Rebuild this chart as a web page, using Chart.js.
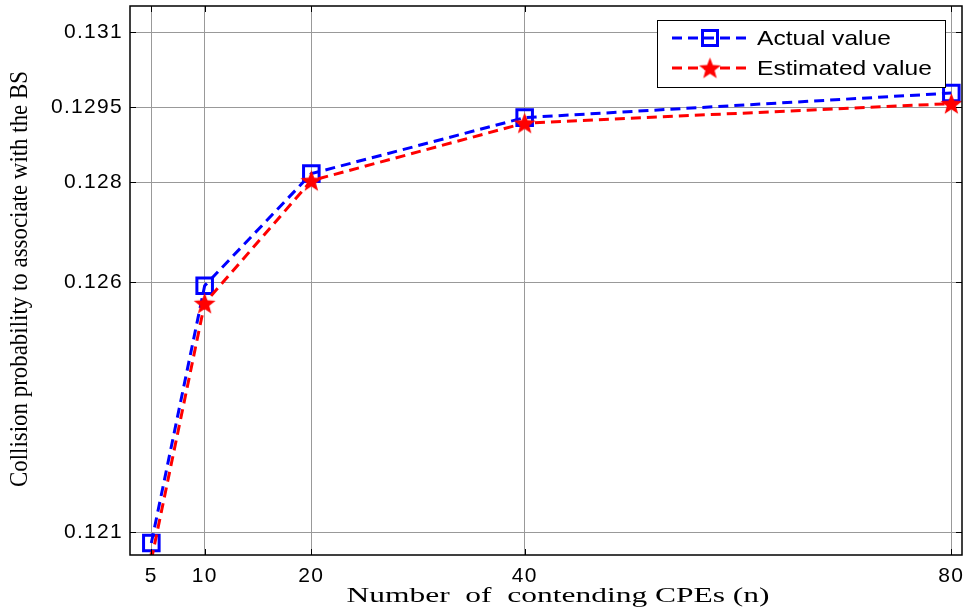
<!DOCTYPE html>
<html>
<head>
<meta charset="utf-8">
<script src="https://cdn.jsdelivr.net/npm/chart.js@4.4.1/dist/chart.umd.min.js"></script>
<style>
  html, body { margin: 0; padding: 0; background: #fff; }
  #wrap { width: 964px; height: 616px; }
</style>
</head>
<body>
<div id="wrap"><canvas id="chart" width="964" height="616"></canvas></div>
<script>
// Collision probability vs number of contending CPEs
const nValues = [5, 10, 20, 40, 80];
const actualValues = [0.12079, 0.12593, 0.12817, 0.12929, 0.12978];
const estimatedValues = [0.12045, 0.12558, 0.12803, 0.12918, 0.12957];
const xTickValues = [5, 10, 20, 40, 80];
const yTickValues = [0.121, 0.126, 0.128, 0.1295, 0.131];
const seriesLabels = ['Actual value', 'Estimated value'];
const xTitle = 'Number  of  contending CPEs (n)';
const yTitle = 'Collision probability to associate with the BS';

const BLUE = '#0000ff';
const RED = '#ff0000';
const DASH = [10, 6];
const SANS = 'Liberation Sans, Arial, sans-serif';
const SERIF = 'Liberation Serif, Times New Roman, serif';
const TICK_FONT = { family: SANS, size: 21 };

// Estrella rellena de 5 puntas como imagen de marcador
function makeStar(r, color) {
  const size = Math.ceil(r * 2) + 2;
  const c = document.createElement('canvas');
  c.width = size;
  c.height = size;
  const g = c.getContext('2d');
  g.fillStyle = color;
  g.beginPath();
  for (let i = 0; i < 10; i++) {
    const rad = i % 2 === 0 ? r : r * 0.42;
    const a = -Math.PI / 2 + i * Math.PI / 5;
    g.lineTo(size / 2 + rad * Math.cos(a), size / 2 + 1 + rad * Math.sin(a));
  }
  g.closePath();
  g.fill();
  return c;
}
const starImg = makeStar(11.5, RED);

// Texto estirado en horizontal, como en la figura original
function stretchedText(ctx, text, x, y, font, sx, width) {
  ctx.save();
  ctx.font = font;
  ctx.letterSpacing = '0px';
  const w = ctx.measureText(text).width;
  ctx.translate(x, y);
  ctx.scale(width ? width / w : sx, 1);
  ctx.fillText(text, 0, 0);
  ctx.restore();
}

// Marco, marcas hacia dentro, títulos y leyenda estilo MATLAB
const framePlugin = {
  id: 'frame',
  beforeLayout(chart) { chart.ctx.letterSpacing = '1.3px'; },
  beforeDraw(chart) { chart.ctx.letterSpacing = '1.3px'; },
  afterDatasetsDraw(chart) {
    const { ctx, chartArea: a, scales } = chart;
    ctx.save();
    ctx.strokeStyle = '#000';
    ctx.lineWidth = 1;
    ctx.beginPath();
    scales.y.ticks.forEach(t => {
      const py = Math.round(scales.y.getPixelForValue(t.value)) + 0.5;
      ctx.moveTo(a.left, py); ctx.lineTo(a.left + 6, py);
      ctx.moveTo(a.right, py); ctx.lineTo(a.right - 6, py);
    });
    scales.x.ticks.forEach(t => {
      const px = Math.round(scales.x.getPixelForValue(t.value)) + 0.5;
      ctx.moveTo(px, a.bottom); ctx.lineTo(px, a.bottom - 6);
      ctx.moveTo(px, a.top); ctx.lineTo(px, a.top + 6);
    });
    ctx.stroke();
    ctx.lineWidth = 1.5;
    ctx.strokeRect(a.left, a.top, a.right - a.left, a.bottom - a.top);

    // leyenda
    const lx = 657, ly = 20, lw = 288, lh = 67;
    ctx.fillStyle = '#fff';
    ctx.fillRect(lx, ly, lw, lh);
    ctx.lineWidth = 1;
    ctx.strokeRect(lx + 0.5, ly + 0.5, lw, lh);
    const rows = [38, 68];
    chart.data.datasets.forEach((ds, i) => {
      const y = rows[i];
      ctx.save();
      ctx.strokeStyle = ds.borderColor;
      ctx.lineWidth = ds.borderWidth;
      ctx.setLineDash(ds.borderDash);
      ctx.beginPath();
      ctx.moveTo(672, y); ctx.lineTo(746, y);
      ctx.stroke();
      ctx.restore();
      if (i === 0) {
        ctx.strokeStyle = BLUE;
        ctx.lineWidth = 3;
        ctx.strokeRect(710 - 7.5, y - 7.5, 15, 15);
      } else {
        ctx.drawImage(starImg, 710 - starImg.width / 2, y - starImg.height / 2);
      }
      ctx.fillStyle = '#000';
      ctx.textBaseline = 'middle';
      ctx.textAlign = 'left';
      stretchedText(ctx, ds.label, 757, y + 1, '21px ' + SANS, 1.17);
    });

    // títulos de los ejes
    ctx.fillStyle = '#000';
    ctx.textAlign = 'center';
    ctx.textBaseline = 'alphabetic';
    stretchedText(ctx, xTitle, 558, 602, '22px ' + SERIF, 0, 423);

    ctx.save();
    ctx.font = '22px ' + SERIF;
    ctx.letterSpacing = '0px';
    const yw = ctx.measureText(yTitle).width;
    ctx.translate(20, 279);
    ctx.scale(1.17, 416 / yw);
    ctx.rotate(-Math.PI / 2);
    ctx.textBaseline = 'middle';
    ctx.fillText(yTitle, 0, 0);
    ctx.restore();

    ctx.restore();
  }
};

const chart = new Chart(document.getElementById('chart').getContext('2d'), {
  type: 'line',
  data: {
    datasets: [
      {
        label: seriesLabels[0],
        data: nValues.map((n, i) => ({ x: n, y: actualValues[i] })),
        borderColor: BLUE,
        backgroundColor: 'rgba(0,0,0,0)',
        borderWidth: 3,
        borderDash: DASH,
        pointStyle: 'rect',
        pointRadius: 11,
        pointBorderWidth: 3,
        pointBorderColor: BLUE,
        pointBackgroundColor: 'rgba(0,0,0,0)',
        tension: 0,
        clip: 0,
        order: 1,
      },
      {
        label: seriesLabels[1],
        data: nValues.map((n, i) => ({ x: n, y: estimatedValues[i] })),
        borderColor: RED,
        backgroundColor: RED,
        borderWidth: 3,
        borderDash: DASH,
        pointStyle: starImg,
        pointRadius: 11,
        tension: 0,
        clip: 0,
        order: 0,
      },
    ],
  },
  options: {
    responsive: false,
    animation: false,
    events: [],
    layout: { autoPadding: false, padding: { top: 6, right: 2, left: 0, bottom: 0 } },
    plugins: {
      legend: { display: false },
      tooltip: { enabled: false },
    },
    scales: {
      x: {
        type: 'linear',
        min: 3,
        max: 81,
        afterBuildTicks: s => { s.ticks = xTickValues.map(v => ({ value: v })); },
        afterFit: s => { s.height = 61; s.paddingLeft = 0; s.paddingRight = 0; },
        grid: { color: '#999', lineWidth: 1, drawTicks: false },
        border: { display: false },
        ticks: { color: '#000', font: TICK_FONT, padding: 9, maxRotation: 0, callback: v => String(v) },
      },
      y: {
        type: 'linear',
        min: 0.12055,
        max: 0.13152,
        afterBuildTicks: s => { s.ticks = yTickValues.map(v => ({ value: v })); },
        afterFit: s => { s.width = 130; s.paddingTop = 0; s.paddingBottom = 0; },
        grid: { color: '#999', lineWidth: 1, drawTicks: false },
        border: { display: false },
        ticks: { color: '#000', font: TICK_FONT, padding: 7, callback: v => String(v) },
      },
    },
  },
  plugins: [framePlugin],
});
</script>
</body>
</html>
